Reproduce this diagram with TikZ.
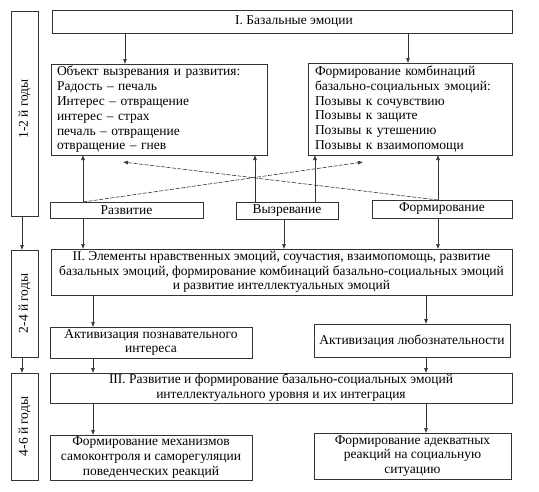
\documentclass[tikz,border=0pt]{standalone}
\usepackage{fontspec}
\setmainfont{Liberation Serif}
\usetikzlibrary{arrows.meta}
\begin{document}
\begin{tikzpicture}[x=1pt,y=-1pt,
  box/.style={draw=black!80, line width=0.6pt, inner sep=0pt, outer sep=0pt, font=\fontsize{13.5}{14.8}\selectfont},
  lab/.style={rotate=90, font=\fontsize{13.5}{14.8}\selectfont},
  arr/.style={draw=black!80, line width=0.6pt, -{Latex[length=5pt,width=4pt]}},
  darr/.style={arr, dash pattern=on 4pt off 1.5pt}]
\useasboundingbox (0,0) rectangle (539,491);
% side boxes
\node[box, minimum width=27, minimum height=205] (s1) at (24.5,113.5) {};
\node[lab] (s1t) at (24.5,109) {1-2 й годы};
\node[box, minimum width=27, minimum height=107] (s2) at (24.5,303.5) {};
\node[lab] (s2t) at (24.5,303.5) {2-4 й годы};
\node[box, minimum width=27, minimum height=107] (s3) at (24.5,426.5) {};
\node[lab] (s3t) at (24.5,426.5) {4-6 й годы};
% main boxes
\node[box, minimum width=460, minimum height=23] (top) at (282,21.5) {\hspace*{24pt}I. Базальные эмоции};
\node[box, minimum width=216, minimum height=91, text width=204, align=left] (L) at (159,109.5)
 {Объект вызревания и развития:\\Радость – печаль\\Интерес – отвращение\\интерес – страх\\печаль – отвращение\\отвращение – гнев};
\node[box, minimum width=204, minimum height=92, text width=190, align=left] (R) at (410,109)
 {Формирование комбинаций\\базально-социальных эмоций:\\Позывы к сочувствию\\Позывы к защите\\Позывы к утешению\\Позывы к взаимопомощи};
\node[box, minimum width=153, minimum height=16] (razv) at (126.5,210) {Развитие};
\node[box, minimum width=102, minimum height=17] (vyzr) at (287,210.5) {Вызревание};
\node[box, minimum width=140, minimum height=18] (form) at (442,209) {Формирование};
\node[box, minimum width=461, minimum height=46, align=center] (II) at (281.5,272)
 {II. Элементы нравственных эмоций, соучастия, взаимопомощь, развитие\\базальных эмоций, формирование комбинаций базально-социальных эмоций\\и развитие интеллектуальных эмоций};
\node[box, minimum width=202, minimum height=31, align=center] (A1) at (151,342.5) {Активизация познавательного\\интереса};
\node[box, minimum width=196, minimum height=33, align=center] (A2) at (412,340.5) {Активизация любознательности};
\node[box, minimum width=462, minimum height=30, align=center] (III) at (281,388)
 {III. Развитие и формирование базально-социальных эмоций\\интеллектуального уровня и их интеграция};
\node[box, minimum width=202, minimum height=45, align=center] (B1) at (151,457.5) {Формирование механизмов\\самоконтроля и саморегуляции\\поведенческих реакций};
\node[box, minimum width=197, minimum height=46, align=center] (B2) at (412.5,456) {Формирование адекватных\\реакций на социальную\\ситуацию};
% x positions
\coordinate (xs) at (22,0);
\coordinate (xa) at (125,0);
\coordinate (xb) at (408,0);
\coordinate (xr) at (83,0);
\coordinate (xv1) at (255,0);
\coordinate (xv2) at (315,0);
\coordinate (xv3) at (284,0);
\coordinate (xf) at (438,0);
\coordinate (xl) at (93,0);
\coordinate (xq) at (426,0);
\coordinate (e1) at (363,162);
\coordinate (e2) at (123,162);
% connectors
\draw[arr] (top.south -| xa) -- (L.north -| xa);
\draw[arr] (top.south -| xb) -- (R.north -| xb);
\draw[arr] (razv.north -| xr) -- (L.south -| xr);
\draw[arr] (razv.south -| xr) -- (II.north -| xr);
\draw[arr] (vyzr.north -| xv1) -- (L.south -| xv1);
\draw[arr] (vyzr.north -| xv2) -- (R.south -| xv2);
\draw[arr] (vyzr.south -| xv3) -- (II.north -| xv3);
\draw[arr] (form.north -| xf) -- (R.south -| xf);
\draw[arr] (form.south -| xf) -- (II.north -| xf);
\draw[darr] (razv.north -| xr) -- (e1);
\draw[darr] (form.north -| xf) -- (e2);
\draw[arr] (s1.south -| xs) -- (s2.north -| xs);
\draw[arr] (s2.south -| xs) -- (s3.north -| xs);
\draw[arr] (II.south -| xl) -- (A1.north -| xl);
\draw[arr] (II.south -| xq) -- (A2.north -| xq);
\draw[arr] (A1.south -| xl) -- (III.north -| xl);
\draw[arr] (A2.south -| xq) -- (III.north -| xq);
\draw[arr] (III.south -| xl) -- (B1.north -| xl);
\draw[arr] (III.south -| xq) -- (B2.north -| xq);
\end{tikzpicture}
\end{document}
